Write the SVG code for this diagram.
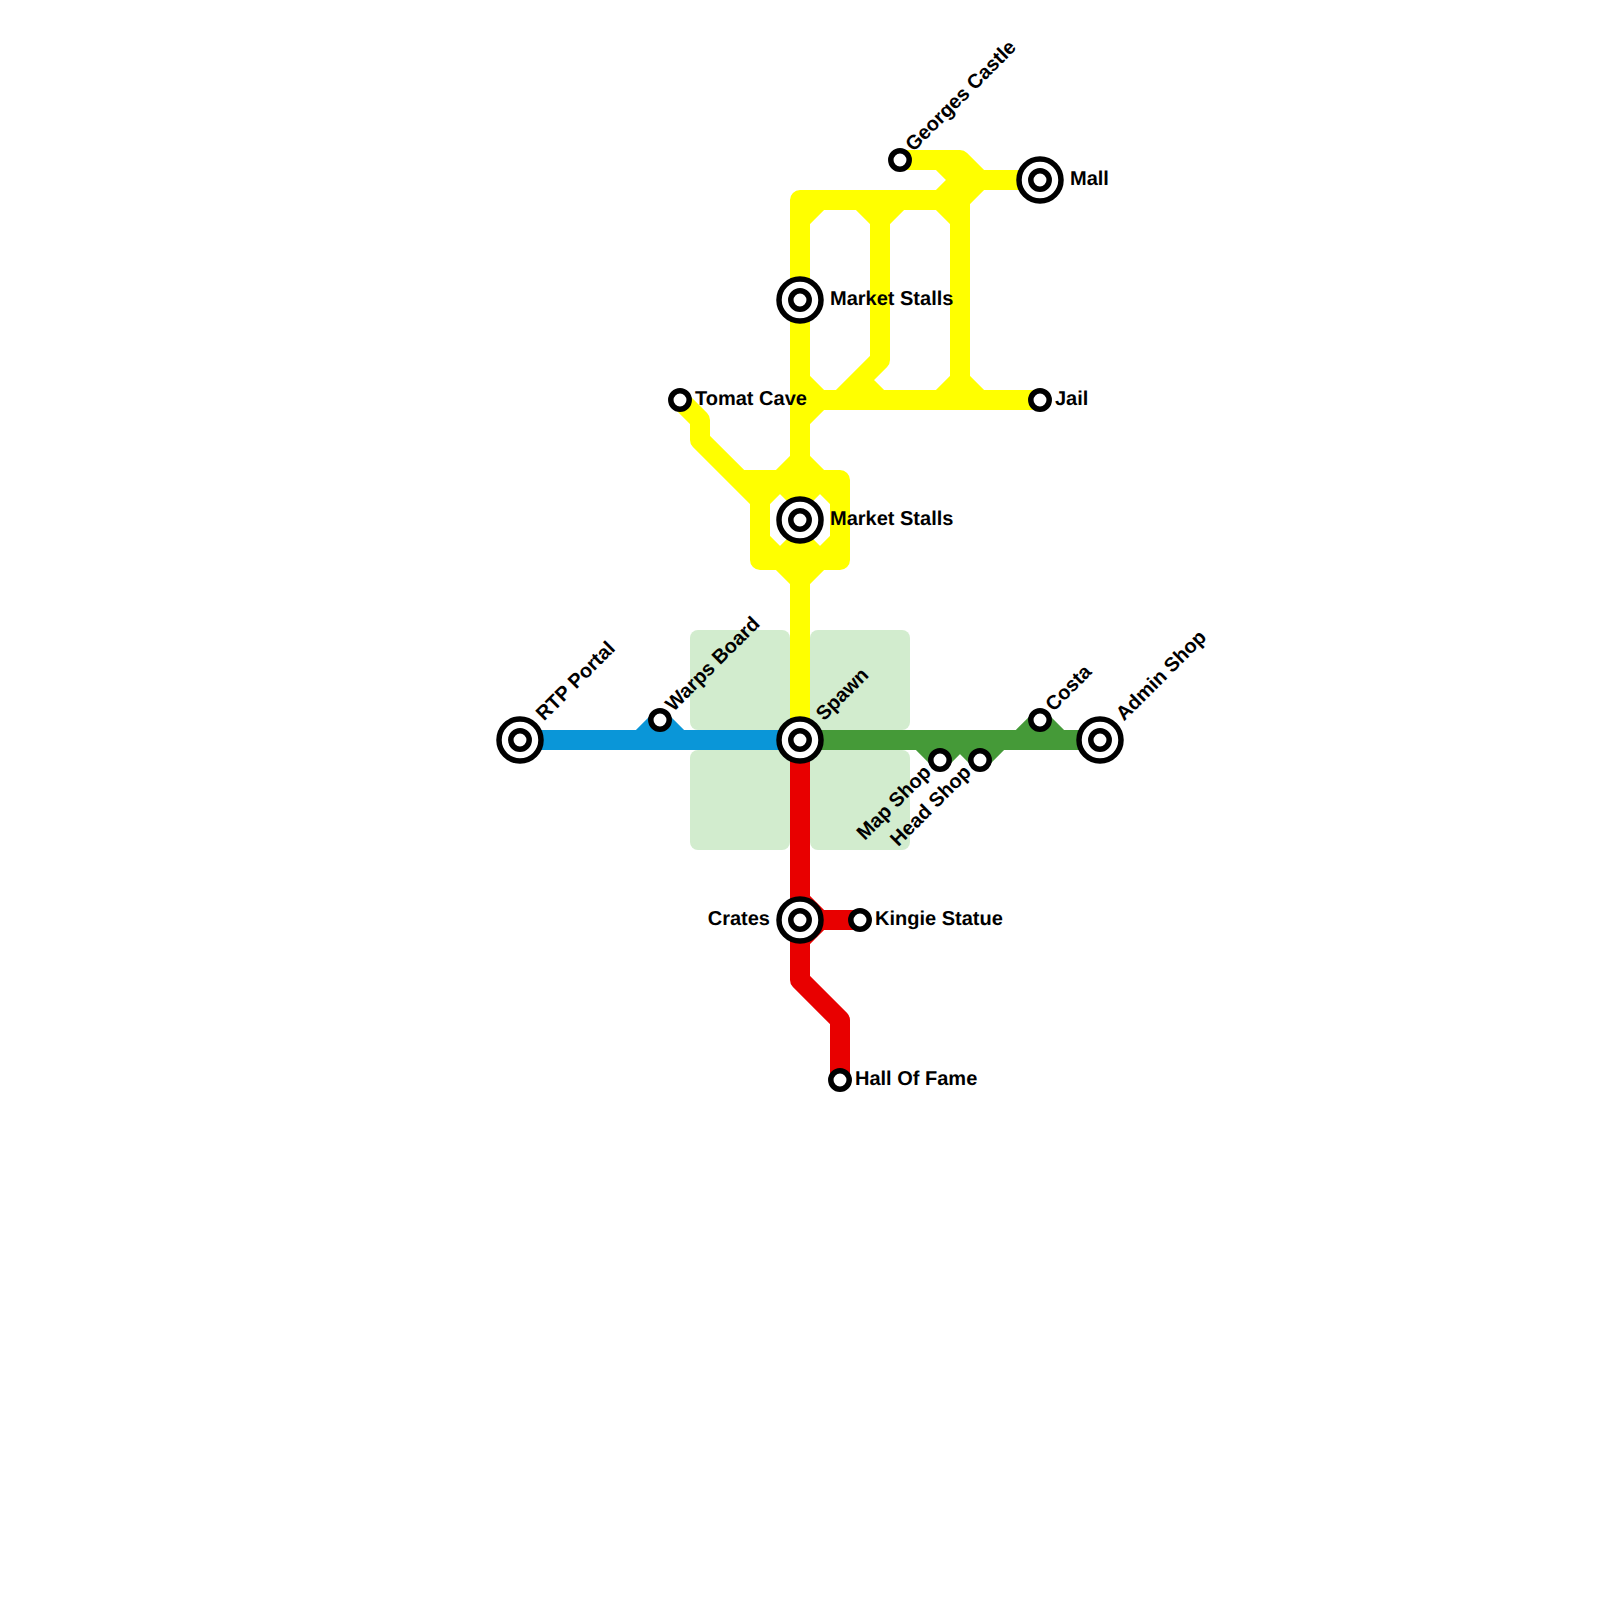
<svg xmlns="http://www.w3.org/2000/svg" width="1600" height="1600" viewBox="0 0 1600 1600">
<defs>
<style>
.park{fill:#d2ecce}
.ln{fill:none;stroke-width:20;stroke-linejoin:round;stroke-linecap:butt}
.y{stroke:#ffff00}.b{stroke:#0a96d8}.g{stroke:#459a38}.r{stroke:#e80000}
.ring{fill:#fff;stroke:#000;stroke-width:5.5}
.dot{fill:#fff;stroke:#000;stroke-width:5.5}
text{font-family:"Liberation Sans",Arial,sans-serif;font-size:20px;font-weight:700;fill:#000;text-rendering:geometricPrecision}
.e{text-anchor:end}
</style>
</defs>
<rect width="1600" height="1600" fill="#fff"/>
<g id="parks">
<rect class="park" x="690" y="630" width="100" height="100" rx="8"/>
<rect class="park" x="810" y="630" width="100" height="100" rx="8"/>
<rect class="park" x="690" y="750" width="100" height="100" rx="8"/>
<rect class="park" x="810" y="750" width="100" height="100" rx="8"/>
</g>
<g id="connectors">
<path class="ln y" d="M900 160H960L980 180H1040"/>
<path class="ln y" d="M940 160L960 180H1000M960 160V200"/>
<path class="ln y" d="M800 740V200H940L960 180"/>
<path class="ln y" d="M960 400V200L980 180"/>
<path class="ln y" d="M800 220L820 200M860 200L880 220M880 220L900 200M940 200L960 220"/>
<path class="ln y" d="M880 200V360L840 400M860 380L880 400"/>
<path class="ln y" d="M800 400H1040"/>
<path class="ln y" d="M800 380L820 400L800 420M940 400L960 380L980 400"/>
<path class="ln y" d="M680 400L700 420V440L760 500V560H840V480H740"/>
<path class="ln y" d="M760 500L780 480L800 460L820 480L840 500M760 540L780 560L800 580L820 560L840 540"/>
<path class="ln y" d="M780 480L800 500L820 480M780 560L800 540L820 560"/>
<path class="ln b" d="M520 740H800M640 740L660 720L680 740"/>
<path class="ln g" d="M800 740H1100M920 740L940 760L960 740L980 760L1000 740M1020 740L1040 720L1060 740"/>
<path class="ln r" d="M800 740V980L840 1020V1080"/>
<path class="ln r" d="M800 920H860M800 900L820 920L800 940"/>
</g>
<g id="n-rtp"><circle class="ring" cx="520" cy="740" r="21"/><circle class="dot" cx="520" cy="740" r="9.2"/><text transform="translate(520 740) rotate(-45) translate(30 4)">RTP Portal</text></g>
<g id="n-warps"><circle class="dot" cx="660" cy="720" r="9.2"/><text transform="translate(660 720) rotate(-45) translate(15 4)">Warps Board</text></g>
<g id="n-spawn"><circle class="ring" cx="800" cy="740" r="21"/><circle class="dot" cx="800" cy="740" r="9.2"/><text transform="translate(800 740) rotate(-45) translate(30 4)">Spawn</text></g>
<g id="n-map"><circle class="dot" cx="940" cy="760" r="9.2"/><text class="e" transform="translate(940 760) rotate(-45) translate(-15 4)">Map Shop</text></g>
<g id="n-head"><circle class="dot" cx="980" cy="760" r="9.2"/><text class="e" transform="translate(980 760) rotate(-45) translate(-15 4)">Head Shop</text></g>
<g id="n-costa"><circle class="dot" cx="1040" cy="720" r="9.2"/><text transform="translate(1040 720) rotate(-45) translate(15 4)">Costa</text></g>
<g id="n-admin"><circle class="ring" cx="1100" cy="740" r="21"/><circle class="dot" cx="1100" cy="740" r="9.2"/><text transform="translate(1100 740) rotate(-45) translate(30 4)">Admin Shop</text></g>
<g id="n-crates"><circle class="ring" cx="800" cy="920" r="21"/><circle class="dot" cx="800" cy="920" r="9.2"/><text class="e" x="770" y="925">Crates</text></g>
<g id="n-kingie"><circle class="dot" cx="860" cy="920" r="9.2"/><text x="875" y="925">Kingie Statue</text></g>
<g id="n-hof"><circle class="dot" cx="840" cy="1080" r="9.2"/><text x="855" y="1085">Hall Of Fame</text></g>
<g id="n-market2"><circle class="ring" cx="800" cy="520" r="21"/><circle class="dot" cx="800" cy="520" r="9.2"/><text x="830" y="525">Market Stalls</text></g>
<g id="n-market1"><circle class="ring" cx="800" cy="300" r="21"/><circle class="dot" cx="800" cy="300" r="9.2"/><text x="830" y="305">Market Stalls</text></g>
<g id="n-tomat"><circle class="dot" cx="680" cy="400" r="9.2"/><text x="695" y="405">Tomat Cave</text></g>
<g id="n-jail"><circle class="dot" cx="1040" cy="400" r="9.2"/><text x="1055" y="405">Jail</text></g>
<g id="n-georges"><circle class="dot" cx="900" cy="160" r="9.2"/><text transform="translate(900 160) rotate(-45) translate(15 4)">Georges Castle</text></g>
<g id="n-mall"><circle class="ring" cx="1040" cy="180" r="21"/><circle class="dot" cx="1040" cy="180" r="9.2"/><text x="1070" y="185">Mall</text></g>
</svg>
